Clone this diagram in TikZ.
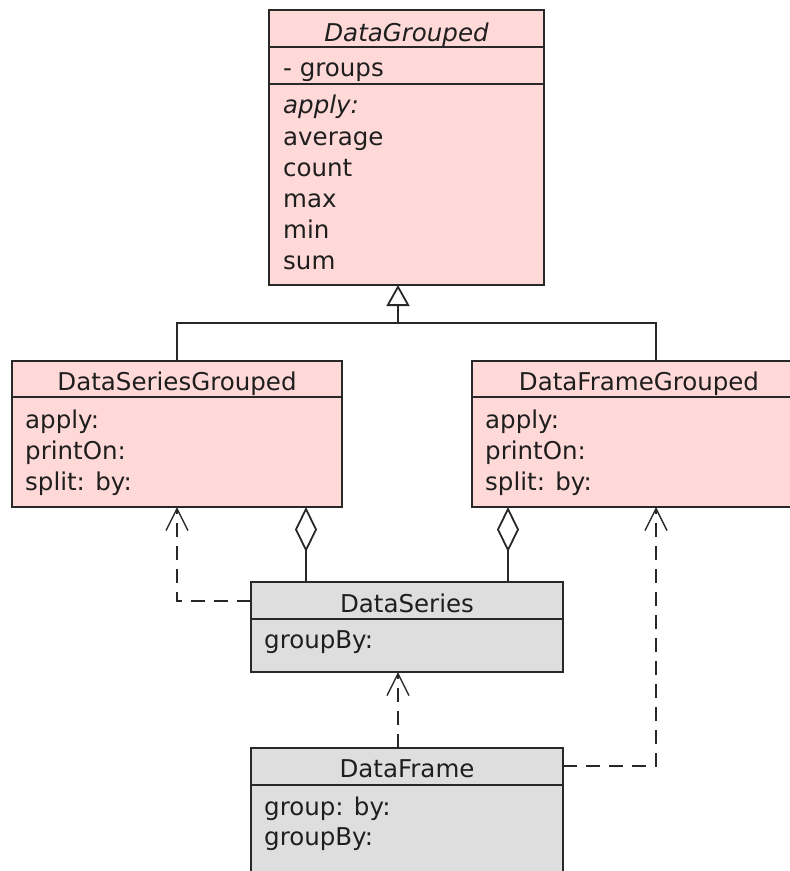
\documentclass[tikz,border=0pt]{standalone}
\usepackage{fontspec}
\setmainfont{DejaVu Sans}
\usetikzlibrary{arrows.meta}
\definecolor{pinkfill}{RGB}{255,216,216}
\definecolor{grayfill}{RGB}{222,222,222}
\definecolor{linec}{RGB}{40,40,40}
\definecolor{textc}{RGB}{30,30,30}
\begin{document}
\begin{tikzpicture}[x=1pt,y=-1pt,
 classbox/.style={draw=linec, line width=1.8pt, anchor=north west, inner sep=0pt, outer sep=0pt},
 pinkbox/.style={classbox, fill=pinkfill},
 graybox/.style={classbox, fill=grayfill},
 divider/.style={draw=linec, line width=1.8pt},
 title/.style={anchor=base, inner sep=0pt, font=\fontsize{24.5}{28}\selectfont, text=textc},
 item/.style={anchor=base west, inner sep=0pt, font=\fontsize{24.5}{28}\selectfont, text=textc},
 conn/.style={draw=linec, line width=1.8pt},
 dep/.style={conn, dash pattern=on 14pt off 9pt, -{Straight Barb[length=22pt,width=22pt,line width=1.4pt]}},
 gen/.style={conn, -{Triangle[open,length=21pt,width=23pt]}},
 agg/.style={conn, -{Diamond[open,length=45pt,width=22pt]}}
]
\useasboundingbox (0,0) rectangle (790,871);
\fill[white] (0,0) rectangle (790,871);
\clip (0,0) rectangle (790,871);

% DataGrouped
\node[pinkbox, minimum width=275pt, minimum height=275pt] (dg) at (269,10) {};
\draw[divider] (dg.west |- 0,47) -- (dg.east |- 0,47);
\draw[divider] (dg.west |- 0,84) -- (dg.east |- 0,84);
\node[title, font=\fontsize{24.5}{28}\selectfont\itshape] (dgt) at (406.5,41) {DataGrouped};
\node[item] (dga) at (283,76) {- groups};
\node[item, font=\fontsize{24.5}{28}\selectfont\itshape] (dgb) at (283,113) {apply:};
\node[item] (dgc) at (283,145) {average};
\node[item] (dgd) at (283,176) {count};
\node[item] (dge) at (283,207) {max};
\node[item] (dgf) at (283,238) {min};
\node[item] (dgg) at (283,269) {sum};

% DataSeriesGrouped
\node[pinkbox, minimum width=330pt, minimum height=146pt] (dsg) at (12,361) {};
\draw[divider] (dsg.west |- 0,397) -- (dsg.east |- 0,397);
\node[title] (dsgt) at (177,390) {DataSeriesGrouped};
\node[item] (dsga) at (25,428) {apply:};
\node[item] (dsgb) at (25,459) {printOn:};
\node[item] (dsgc) at (25,490) {split: by:};

% DataFrameGrouped
\node[pinkbox, minimum width=334pt, minimum height=146pt] (dfg) at (472,361) {};
\draw[divider] (dfg.west |- 0,397) -- (dfg.east |- 0,397);
\node[title] (dfgt) at (639,390) {DataFrameGrouped};
\node[item] (dfga) at (485,428) {apply:};
\node[item] (dfgb) at (485,459) {printOn:};
\node[item] (dfgc) at (485,490) {split: by:};

% DataSeries
\node[graybox, minimum width=312pt, minimum height=90pt] (ds) at (251,582) {};
\draw[divider] (ds.west |- 0,619) -- (ds.east |- 0,619);
\node[title] (dst) at (407,612) {DataSeries};
\node[item] (dsa) at (264,648) {groupBy:};

% DataFrame
\node[graybox, minimum width=312pt, minimum height=160pt] (df) at (251,748) {};
\draw[divider] (df.west |- 0,785) -- (df.east |- 0,785);
\node[title] (dft) at (407,777) {DataFrame};
\node[item] (dfa) at (264,815) {group: by:};
\node[item] (dfb) at (264,845) {groupBy:};

% generalization
\coordinate (gj) at (398,323);
\draw[gen] (gj) -- (gj |- dg.south);
\draw[conn] (dsg.north) |- (gj);
\draw[conn] (656,0 |- dfg.north) |- (gj);

% aggregations
\draw[agg] (306,0 |- ds.north) -- (306,0 |- dsg.south);
\draw[agg] (508,0 |- ds.north) -- (508,0 |- dfg.south);

% dependencies
\draw[dep] (ds.west |- 0,601) -| (dsg.south);
\draw[dep] (398,0 |- df.north) -- (398,0 |- ds.south);
\draw[dep] (df.east |- 0,766) -| (656,0 |- dfg.south);
\end{tikzpicture}
\end{document}
